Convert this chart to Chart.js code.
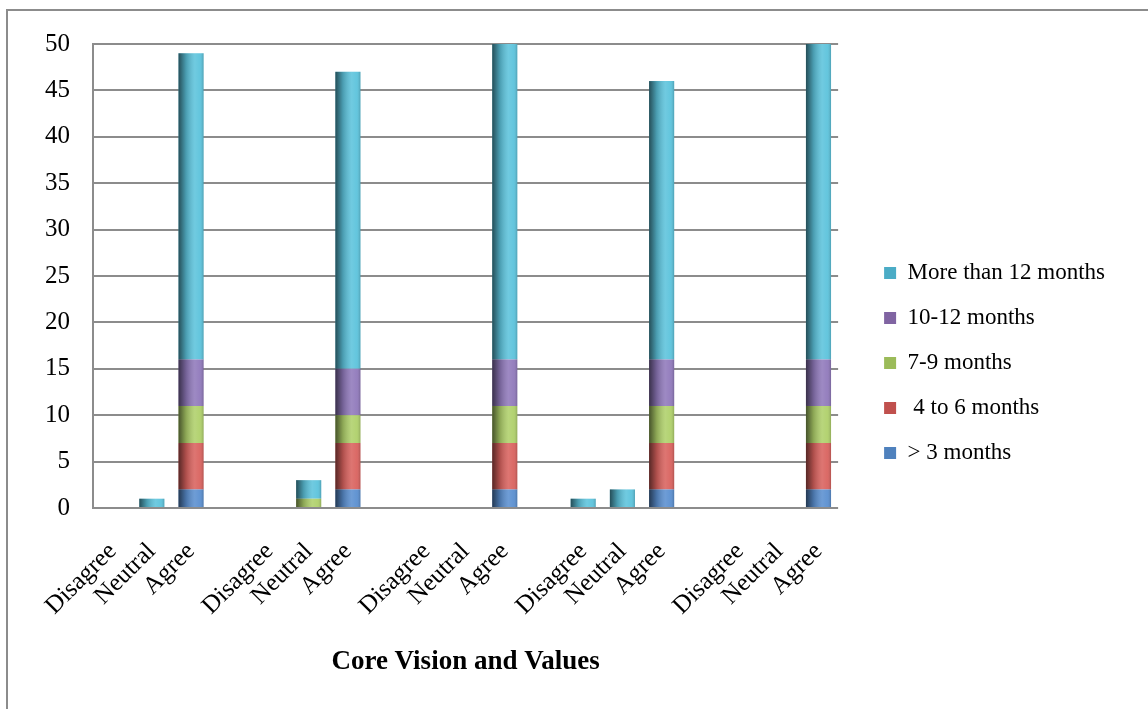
<!DOCTYPE html>
<html>
<head>
<meta charset="utf-8">
<script src="https://cdn.jsdelivr.net/npm/chart.js@4.4.1/dist/chart.umd.min.js"></script>
<style>
  body { margin: 0; background: #fff; }
  #wrap { position: relative; width: 1148px; height: 709px; overflow: hidden; }
  #frame {
    position: absolute; left: 6px; top: 9px; width: 1200px; height: 800px;
    border: 2px solid #8c8c8c;
  }
  #myChart { position: absolute; left: 0; top: 0; }
</style>
</head>
<body>
<div id="wrap">
  <div id="frame"></div>
  <canvas id="myChart" width="1148" height="709"></canvas>
</div>
<script>
// categories (blank slots separate the five groups)
const categories = [
  "Disagree", "Neutral", "Agree", "",
  "Disagree", "Neutral", "Agree", "",
  "Disagree", "Neutral", "Agree", "",
  "Disagree", "Neutral", "Agree", "",
  "Disagree", "Neutral", "Agree",
];

const under3 = [0, 0, 2, null, 0, 0, 2, null, 0, 0, 2, null, 0, 0, 2, null, 0, 0, 2];
const m4to6 = [0, 0, 5, null, 0, 0, 5, null, 0, 0, 5, null, 0, 0, 5, null, 0, 0, 5];
const m7to9 = [0, 0, 4, null, 0, 1, 3, null, 0, 0, 4, null, 0, 0, 4, null, 0, 0, 4];
const m10to12 = [0, 0, 5, null, 0, 0, 5, null, 0, 0, 5, null, 0, 0, 5, null, 0, 0, 5];
const over12 = [0, 1, 33, null, 0, 2, 32, null, 0, 0, 34, null, 1, 2, 30, null, 0, 0, 34];

const yTicks = [0, 5, 10, 15, 20, 25, 30, 35, 40, 45, 50];

const serif = '"Liberation Serif", "Times New Roman", serif';

// shading so the bars look like cylinders
const cylinderShade = {
  id: "cylinderShade",
  afterDatasetsDraw(chart) {
    const ctx = chart.ctx;
    chart.data.datasets.forEach((ds, i) => {
      const meta = chart.getDatasetMeta(i);
      meta.data.forEach((bar) => {
        if (bar.skip || !bar.height) return;
        const x0 = bar.x - bar.width / 2;
        const x1 = bar.x + bar.width / 2;
        const top = Math.min(bar.y, bar.base);
        const h = Math.abs(bar.base - bar.y);
        const g = ctx.createLinearGradient(x0, 0, x1, 0);
        g.addColorStop(0, "rgba(0,0,0,0.6)");
        g.addColorStop(0.3, "rgba(0,0,0,0.2)");
        g.addColorStop(0.65, "rgba(255,255,255,0.12)");
        g.addColorStop(0.85, "rgba(255,255,255,0.05)");
        g.addColorStop(1, "rgba(0,0,0,0.18)");
        ctx.save();
        ctx.fillStyle = g;
        ctx.fillRect(x0, top, x1 - x0, h);
        ctx.restore();
      });
    });
  },
};

const ctx = document.getElementById("myChart").getContext("2d");

new Chart(ctx, {
  type: "bar",
  plugins: [cylinderShade],
  data: {
    labels: categories,
    datasets: [
      { label: "> 3 months", data: under3, backgroundColor: "#5a8fd0" },
      { label: " 4 to 6 months", data: m4to6, backgroundColor: "#d9625e" },
      { label: "7-9 months", data: m7to9, backgroundColor: "#afd06a" },
      { label: "10-12 months", data: m10to12, backgroundColor: "#9079bb" },
      { label: "More than 12 months", data: over12, backgroundColor: "#5cc3dc" },
    ],
  },
  options: {
    responsive: false,
    animation: false,
    layout: {
      padding: { top: 44, right: 33, bottom: 27, left: 0 },
    },
    datasets: {
      bar: {
        categoryPercentage: 1,
        barPercentage: 0.64,
        borderWidth: 0,
      },
    },
    plugins: {
      tooltip: { enabled: false },
      legend: {
        position: "right",
        reverse: true,
        maxWidth: 320,
        labels: {
          boxWidth: 12,
          boxHeight: 12,
          padding: 22,
          color: "#000",
          font: { family: serif, size: 23 },
          generateLabels(chart) {
            const items = Chart.defaults.plugins.legend.labels.generateLabels(chart);
            const legendColors = ["#4f81bd", "#c0504d", "#9bbb59", "#8064a2", "#4bacc6"];
            items.forEach((it) => {
              it.fillStyle = legendColors[it.datasetIndex];
              it.lineWidth = 0;
            });
            return items;
          },
        },
      },
    },
    scales: {
      x: {
        stacked: true,
        grid: { display: false, drawTicks: false },
        border: { display: false },
        ticks: {
          autoSkip: false,
          maxRotation: 45,
          minRotation: 45,
          padding: 29,
          color: "#000",
          font: { family: serif, size: 25 },
        },
        title: {
          display: true,
          text: "Core Vision and Values",
          color: "#000",
          font: { family: serif, size: 27, weight: "bold" },
          padding: { top: 0, bottom: 4 },
        },
        afterFit(scale) {
          scale.height = 174;
        },
      },
      y: {
        stacked: true,
        min: 0,
        max: 50,
        afterBuildTicks(scale) {
          scale.ticks = yTicks.map((v) => ({ value: v }));
        },
        grid: { color: "#8c8c8c", lineWidth: 2, drawTicks: false },
        border: { display: true, color: "#8c8c8c", width: 2 },
        ticks: {
          padding: 23,
          color: "#000",
          font: { family: serif, size: 25 },
        },
        afterFit(scale) {
          scale.width = 93;
        },
      },
      gap: {
        position: "right",
        display: true,
        grid: { display: false, drawTicks: false },
        border: { display: false },
        ticks: { display: false },
        afterFit(scale) {
          scale.width = 24;
        },
      },
    },
  },
});
</script>
</body>
</html>
